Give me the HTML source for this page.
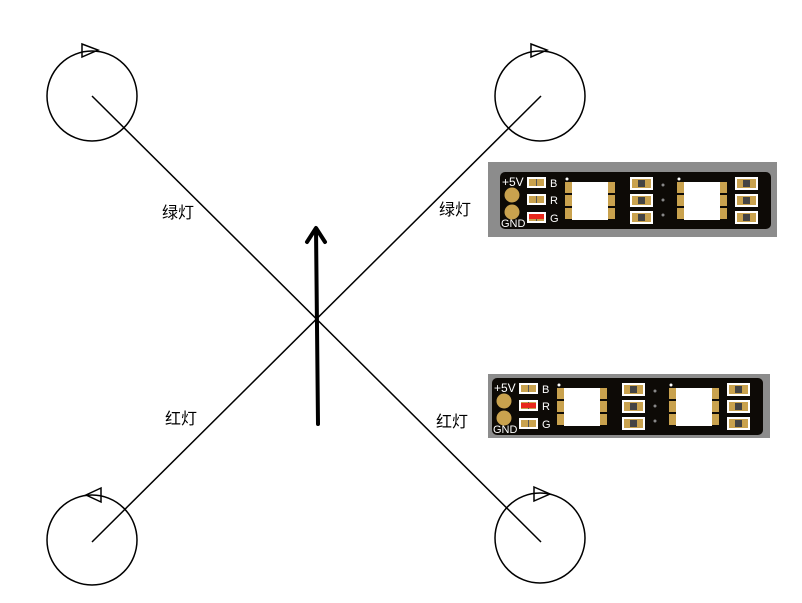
<!DOCTYPE html>
<html><head><meta charset="utf-8"><style>
html,body{margin:0;padding:0;background:#fff;}
svg{display:block;}
</style></head><body>
<svg width="802" height="603" viewBox="0 0 802 603" xmlns="http://www.w3.org/2000/svg">
<defs>
<g id="res">
  <rect x="0" y="0" width="23" height="13" fill="#fff"/>
  <rect x="2" y="2" width="19" height="9" fill="#c9a24e"/>
  <rect x="8" y="3" width="7" height="7" fill="#444"/>
</g>
<g id="small">
  <rect x="0" y="0" width="19" height="11" fill="#fff"/>
  <rect x="2" y="2" width="15" height="7" fill="#c9a24e"/>
  <rect x="9" y="2" width="1" height="7" fill="#555"/>
</g>
<g id="led">
  <rect x="-7" y="0" width="9" height="11" fill="#c9a24e"/>
  <rect x="-7" y="13" width="9" height="11" fill="#c9a24e"/>
  <rect x="-7" y="26" width="9" height="11" fill="#c9a24e"/>
  <rect x="34" y="0" width="9" height="11" fill="#c9a24e"/>
  <rect x="34" y="13" width="9" height="11" fill="#c9a24e"/>
  <rect x="34" y="26" width="9" height="11" fill="#c9a24e"/>
  <rect x="0" y="0" width="36" height="38" fill="#fff"/>
  <circle cx="-5" cy="-3" r="1.5" fill="#fff"/>
</g>
<g id="strip">
  <rect x="0" y="0" width="271" height="57" rx="5" fill="#0d0a06"/>
  <text x="2" y="14" font-family="Liberation Sans, sans-serif" font-size="12" fill="#fff">+5V</text>
  <circle cx="12" cy="23" r="7.5" fill="#c9a24e"/>
  <circle cx="12" cy="40" r="7.5" fill="#c9a24e"/>
  <text x="1" y="55" font-family="Liberation Sans, sans-serif" font-size="11" fill="#fff">GND</text>
  <use href="#small" x="27" y="5"/>
  <use href="#small" x="27" y="22"/>
  <use href="#small" x="27" y="40"/>
  <text x="50" y="15" font-family="Liberation Sans, sans-serif" font-size="11" fill="#fff">B</text>
  <text x="50" y="32" font-family="Liberation Sans, sans-serif" font-size="11" fill="#fff">R</text>
  <text x="50" y="50" font-family="Liberation Sans, sans-serif" font-size="11" fill="#fff">G</text>
  <use href="#led" x="72" y="10"/>
  <use href="#res" x="130" y="5"/>
  <use href="#res" x="130" y="22"/>
  <use href="#res" x="130" y="39"/>
  <circle cx="163" cy="13" r="1.5" fill="#888"/>
  <circle cx="163" cy="28" r="1.5" fill="#888"/>
  <circle cx="163" cy="43" r="1.5" fill="#888"/>
  <use href="#led" x="184" y="10"/>
  <use href="#res" x="235" y="5"/>
  <use href="#res" x="235" y="22"/>
  <use href="#res" x="235" y="39"/>
</g>
</defs>

<g fill="none" stroke="#000" stroke-width="1.5">
  <circle cx="92" cy="96" r="45"/>
  <circle cx="540" cy="96" r="45"/>
  <circle cx="92" cy="540" r="45"/>
  <circle cx="540" cy="538" r="45"/>
  <path d="M82 44 L98 50 L82 57 Z"/>
  <path d="M531 44 L547 50 L531 57 Z"/>
  <path d="M101 488 L86 495 L101 502 Z"/>
  <path d="M534 487 L550 494 L534 501 Z"/>
  <line x1="92" y1="96" x2="541" y2="542"/>
  <line x1="541" y1="96" x2="92" y2="542"/>
</g>
<g fill="none" stroke="#000" stroke-width="4" stroke-linecap="round" stroke-linejoin="round">
  <line x1="318" y1="424" x2="316" y2="229"/>
  <path d="M307 242 L316 228 L325 242"/>
</g>

<g font-family="Liberation Sans, 'Noto Sans CJK SC', sans-serif" font-size="16" fill="#000">
  <text x="162" y="218">绿灯</text>
  <text x="439" y="215">绿灯</text>
  <text x="165" y="424">红灯</text>
  <text x="436" y="427">红灯</text>
</g>

<rect x="488" y="162" width="289" height="75" fill="#8c8c8c"/>
<use href="#strip" x="500" y="172"/>
<rect x="529" y="214" width="15" height="5" fill="#e8281c"/>

<rect x="488" y="374" width="282" height="64" fill="#8c8c8c"/>
<use href="#strip" x="492" y="378"/>
<rect x="521" y="403" width="15" height="5" fill="#e8281c"/>
</svg>
</body></html>
